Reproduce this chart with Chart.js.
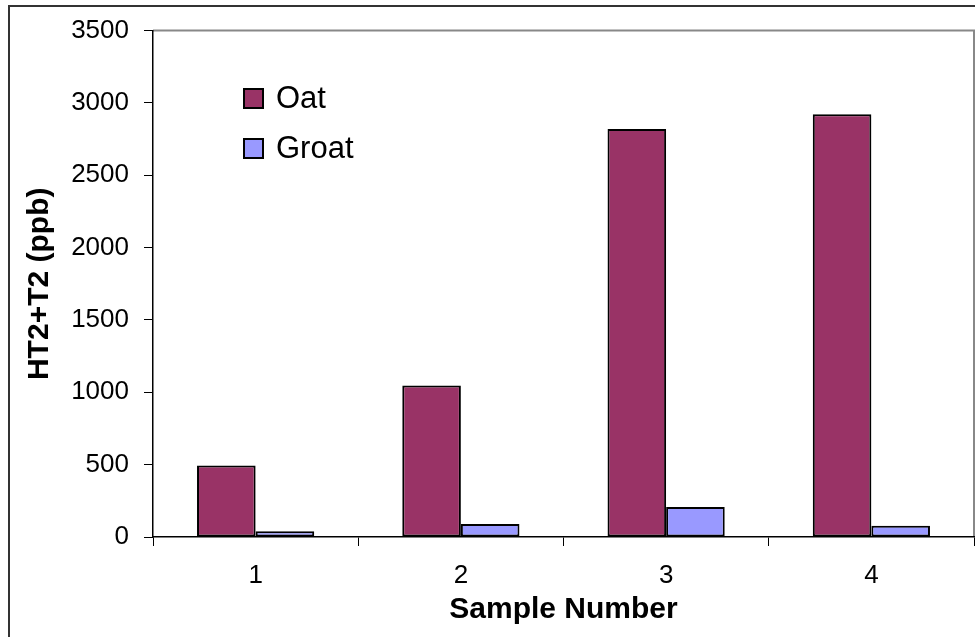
<!DOCTYPE html>
<html>
<head>
<meta charset="utf-8">
<script src="https://cdn.jsdelivr.net/npm/chart.js@4.4.1/dist/chart.umd.min.js"></script>
<style>
html,body{margin:0;padding:0;background:#fff;}
#wrap{width:975px;height:637px;position:relative;}
</style>
</head>
<body>
<div id="wrap"><canvas id="c" width="975" height="637"></canvas></div>
<script>
const categories = ['1', '2', '3', '4'];
const oatValues = [494, 1047, 2820, 2921];
const groatValues = [39, 90, 207, 78];
const seriesNames = ['Oat', 'Groat'];
const yTicks = [0, 500, 1000, 1500, 2000, 2500, 3000, 3500];

const FONT = '"Liberation Sans", Arial, sans-serif';

const frame = {
  id: 'frame',
  beforeDraw(chart) {
    const ctx = chart.ctx, a = chart.chartArea;
    ctx.save();
    ctx.fillStyle = '#fff';
    ctx.fillRect(0, 0, chart.width, chart.height);
    ctx.strokeStyle = '#333';
    ctx.lineWidth = 2;
    ctx.strokeRect(9, 6, 1200, 1200);
    ctx.strokeStyle = '#888';
    ctx.lineWidth = 2;
    ctx.beginPath();
    ctx.moveTo(a.left, a.top);
    ctx.lineTo(a.right, a.top);
    ctx.lineTo(a.right, a.bottom);
    ctx.stroke();
    ctx.restore();
  },
  afterDraw(chart) {
    const ctx = chart.ctx;
    ctx.save();
    chart.data.datasets.forEach((ds, i) => {
      const y = 88 + i * 50;
      ctx.fillStyle = ds.backgroundColor;
      ctx.fillRect(243, y, 21, 21);
      ctx.strokeStyle = '#000';
      ctx.lineWidth = 2;
      ctx.strokeRect(244, y + 1, 19, 19);
      ctx.fillStyle = '#000';
      ctx.font = '31px ' + FONT;
      ctx.textBaseline = 'middle';
      ctx.textAlign = 'left';
      ctx.fillText(ds.label, 276, y + 11);
    });
    ctx.restore();
  }
};

new Chart(document.getElementById('c'), {
  type: 'bar',
  data: {
    labels: categories,
    datasets: [
      { label: seriesNames[0], data: oatValues, backgroundColor: '#993366', borderColor: '#000', borderWidth: 2, borderSkipped: false },
      { label: seriesNames[1], data: groatValues, backgroundColor: '#9999FF', borderColor: '#000', borderWidth: 2, borderSkipped: false }
    ]
  },
  plugins: [frame],
  options: {
    responsive: false,
    animation: false,
    devicePixelRatio: 1,
    layout: { padding: { left: 0, top: 29, right: 1, bottom: 0 } },
    datasets: { bar: { barPercentage: 1.0, categoryPercentage: 0.571 } },
    plugins: { legend: { display: false }, tooltip: { enabled: false } },
    scales: {
      x: {
        grid: { display: true, drawOnChartArea: false, drawTicks: true, tickLength: 9, color: '#000', offset: true },
        border: { display: true, color: '#000', width: 1.5 },
        ticks: { color: '#000', font: { family: FONT, size: 26 }, padding: 14, maxRotation: 0 },
        title: { display: true, text: 'Sample Number', color: '#000', font: { family: FONT, size: 30, weight: 'bold' }, padding: { top: 0, bottom: 9 } },
        afterFit(s) { s.height = 100; }
      },
      y: {
        min: 0, max: 3500,
        afterBuildTicks(s) { s.ticks = yTicks.map(v => ({ value: v })); },
        grid: { display: true, drawOnChartArea: false, drawTicks: true, tickLength: 9, color: '#000' },
        border: { display: true, color: '#000', width: 1.5 },
        ticks: { color: '#000', font: { family: FONT, size: 26 }, padding: 15, callback: (v) => String(v) },
        title: { display: true, text: 'HT2+T2 (ppb)', color: '#000', font: { family: FONT, size: 30, weight: 'bold' }, padding: { top: 22, bottom: 0 } },
        afterFit(s) { s.width = 153; }
      }
    }
  }
});
</script>
</body>
</html>
